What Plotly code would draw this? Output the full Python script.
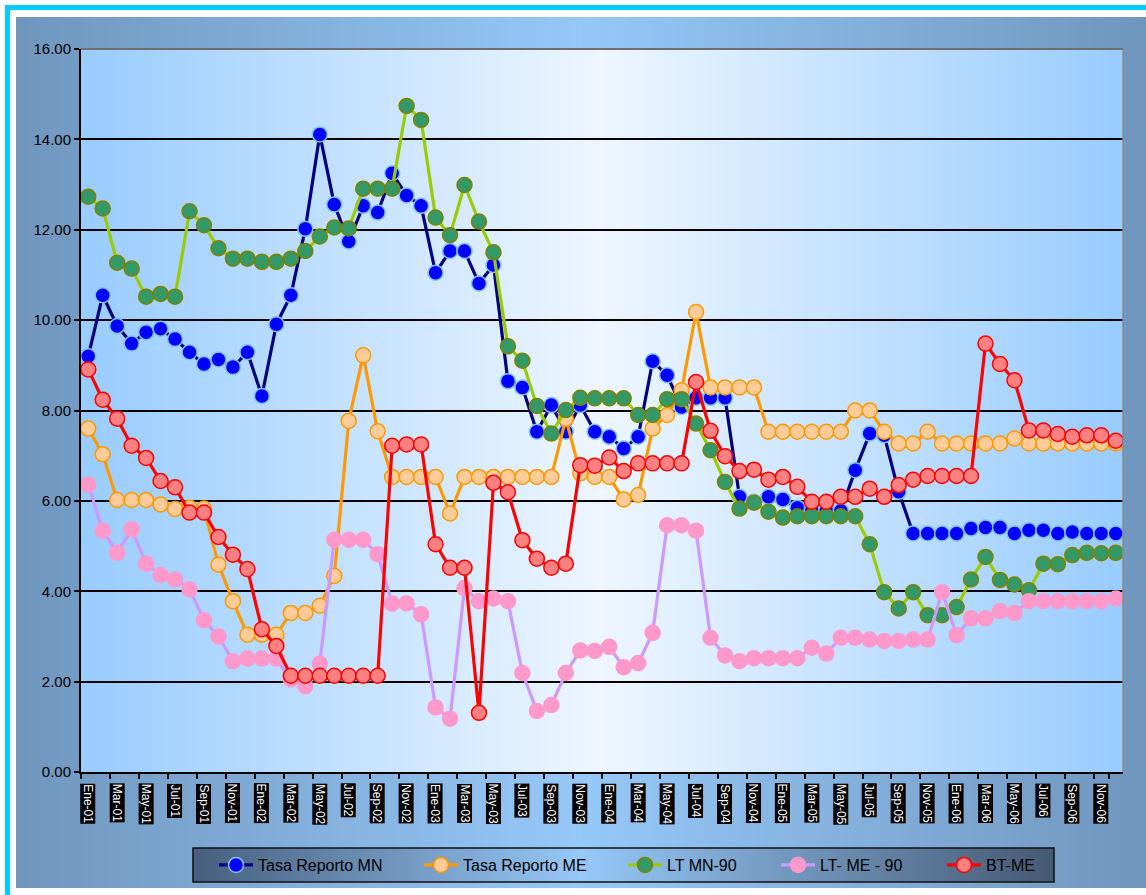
import base64
import struct
import zlib

import plotly.graph_objects as go

# ---------------------------------------------------------------- data
MESES = ["Ene", "Feb", "Mar", "Abr", "May", "Jun",
         "Jul", "Ago", "Sep", "Oct", "Nov", "Dic"]
periodos = [f"{m}-{a:02d}" for a in range(1, 7) for m in MESES]

tasa_reporto_mn = [
    9.20, 10.55, 9.87, 9.48, 9.73, 9.81, 9.58, 9.29, 9.03, 9.13, 8.96, 9.29,
    8.32, 9.91, 10.55, 12.02, 14.11, 12.56, 11.74, 12.53, 12.38, 13.25, 12.76, 12.53,
    11.05, 11.53, 11.53, 10.81, 11.22, 8.65, 8.51, 7.53, 8.12, 7.53, 8.12, 7.53,
    7.42, 7.16, 7.42, 9.09, 8.78, 8.08, 8.28, 8.28, 8.28, 6.09, 5.98, 6.09,
    6.03, 5.85, 5.80, 5.78, 5.78, 6.68, 7.49, 7.45, 6.20, 5.28, 5.28, 5.28,
    5.28, 5.39, 5.41, 5.41, 5.28, 5.35, 5.35, 5.28, 5.31, 5.28, 5.28, 5.28,
]
tasa_reporto_me = [
    7.60, 7.03, 6.02, 6.02, 6.02, 5.92, 5.82, 5.85, 5.83, 4.59, 3.78, 3.04,
    3.04, 3.04, 3.52, 3.52, 3.68, 4.34, 7.77, 9.22, 7.54, 6.53, 6.53, 6.53,
    6.53, 5.72, 6.53, 6.53, 6.53, 6.53, 6.53, 6.53, 6.53, 7.82, 6.61, 6.53,
    6.53, 6.03, 6.13, 7.60, 7.90, 8.45, 10.18, 8.51, 8.51, 8.51, 8.51, 7.53,
    7.53, 7.53, 7.53, 7.53, 7.53, 8.00, 8.00, 7.53, 7.27, 7.27, 7.53, 7.27,
    7.27, 7.27, 7.27, 7.27, 7.38, 7.27, 7.27, 7.27, 7.27, 7.27, 7.27, 7.27,
]
lt_mn_90 = [
    12.73, 12.47, 11.27, 11.14, 10.52, 10.58, 10.52, 12.41, 12.10, 11.59, 11.36, 11.36,
    11.29, 11.29, 11.36, 11.53, 11.85, 12.05, 12.03, 12.91, 12.91, 12.91, 14.74, 14.43,
    12.27, 11.88, 12.99, 12.18, 11.50, 9.42, 9.10, 8.10, 7.49, 8.01, 8.28, 8.27,
    8.27, 8.27, 7.90, 7.90, 8.25, 8.25, 7.71, 7.12, 6.42, 5.83, 5.96, 5.76,
    5.63, 5.66, 5.66, 5.66, 5.66, 5.66, 5.04, 3.98, 3.62, 3.98, 3.47, 3.47,
    3.65, 4.26, 4.76, 4.25, 4.15, 4.02, 4.61, 4.60, 4.80, 4.85, 4.84, 4.85,
]
lt_me_90 = [
    6.36, 5.34, 4.85, 5.37, 4.61, 4.36, 4.26, 4.04, 3.36, 3.00, 2.45, 2.51,
    2.51, 2.51, 2.05, 1.90, 2.40, 5.14, 5.14, 5.14, 4.82, 3.73, 3.73, 3.49,
    1.43, 1.18, 4.07, 3.78, 3.84, 3.78, 2.19, 1.35, 1.48, 2.19, 2.69, 2.68,
    2.77, 2.32, 2.41, 3.08, 5.46, 5.46, 5.34, 2.97, 2.58, 2.45, 2.52, 2.52,
    2.52, 2.52, 2.75, 2.62, 2.97, 2.97, 2.93, 2.90, 2.90, 2.93, 2.93, 3.98,
    3.03, 3.40, 3.40, 3.56, 3.52, 3.78, 3.78, 3.78, 3.78, 3.78, 3.78, 3.84,
]
bt_me = [
    8.91, 8.24, 7.82, 7.22, 6.95, 6.44, 6.30, 5.74, 5.74, 5.20, 4.81, 4.49,
    3.16, 2.79, 2.13, 2.13, 2.13, 2.13, 2.13, 2.13, 2.13, 7.22, 7.25, 7.25,
    5.04, 4.52, 4.52, 1.31, 6.40, 6.19, 5.13, 4.72, 4.52, 4.61, 6.79, 6.78,
    6.96, 6.66, 6.83, 6.83, 6.83, 6.83, 8.63, 7.55, 6.99, 6.66, 6.69, 6.47,
    6.53, 6.31, 5.98, 5.98, 6.09, 6.09, 6.27, 6.09, 6.35, 6.47, 6.55, 6.55,
    6.55, 6.55, 9.48, 9.03, 8.67, 7.56, 7.56, 7.48, 7.42, 7.45, 7.45, 7.33,
]

# name, values, line colour, marker fill, marker outline
series = [
    ("Tasa Reporto MN", tasa_reporto_mn, "#000080", "#0000FF", "#7FC4FF"),
    ("Tasa Reporto ME", tasa_reporto_me, "#FF9900", "#FFCC99", "#FF9900"),
    ("LT MN-90", lt_mn_90, "#99CC00", "#339966", "#808000"),
    ("LT- ME - 90", lt_me_90, "#CC99FF", "#FF99CC", "#FF99CC"),
    ("BT-ME", bt_me, "#FF0000", "#FF8080", "#FF0000"),
]

# ---------------------------------------------------------------- geometry
W, H = 1146, 895
ML, MR, MT, MB = 81, 23, 49, 123
PW, PH = W - ML - MR, H - MT - MB


def fx(px):
    return (px - ML) / PW


def fy(py):
    return (H - MB - py) / PH


ARIAL = "Arial, Liberation Sans, sans-serif"


def gradient_uri(stops, n=256):
    """Horizontal colour ramp as a 1-pixel-high PNG data URI."""
    row = bytearray([0])
    for i in range(n):
        t = i / (n - 1)
        for (t0, c0), (t1, c1) in zip(stops[:-1], stops[1:]):
            if t0 <= t <= t1:
                u = 0 if t1 == t0 else (t - t0) / (t1 - t0)
                row += bytes(round(a + (b - a) * u) for a, b in zip(c0, c1))
                break

    def chunk(tag, data):
        return (struct.pack(">I", len(data)) + tag + data
                + struct.pack(">I", zlib.crc32(tag + data) & 0xFFFFFFFF))

    png = (b"\x89PNG\r\n\x1a\n"
           + chunk(b"IHDR", struct.pack(">IIBBBBB", n, 1, 8, 2, 0, 0, 0))
           + chunk(b"IDAT", zlib.compress(bytes(row)))
           + chunk(b"IEND", b""))
    return "data:image/png;base64," + base64.b64encode(png).decode()


steel = (112, 150, 190)
sky = (153, 204, 255)
frame_bg = gradient_uri([(0, steel), (0.5, (150, 200, 248)), (1, steel)])
plot_bg = gradient_uri([(0, sky), (0.5, (238, 246, 255)), (1, sky)])
legend_bg = gradient_uri([(0, (72, 96, 126)), (0.45, (150, 200, 248)), (1, (70, 90, 116))])

# ---------------------------------------------------------------- figure
fig = go.Figure()
legend_ids = ["legend", "legend2", "legend3", "legend4", "legend5"]
for (name, vals, lc, mc, ml), lid in zip(series, legend_ids):
    fig.add_trace(go.Scatter(
        x=periodos, y=vals, name=name, mode="lines+markers",
        line=dict(color=lc, width=3.2),
        marker=dict(symbol="circle", size=15, color=mc, line=dict(color=ml, width=1.5)),
        legend=lid,
    ))

images = [
    dict(source=frame_bg, xref="paper", yref="paper", x=fx(16), y=fy(17),
         sizex=(W - 16) / PW, sizey=(888 - 17) / PH, sizing="stretch",
         xanchor="left", yanchor="top", layer="below"),
    dict(source=plot_bg, xref="paper", yref="paper", x=0, y=1, sizex=1, sizey=1,
         sizing="stretch", xanchor="left", yanchor="top", layer="below"),
    dict(source=legend_bg, xref="paper", yref="paper", x=fx(193), y=fy(848),
         sizex=(1054 - 193) / PW, sizey=(882 - 848) / PH, sizing="stretch",
         xanchor="left", yanchor="top", layer="below"),
]

shapes = [
    # cyan outer frame (top and left bands)
    dict(type="rect", xref="paper", yref="paper", x0=fx(5), x1=fx(W), y0=fy(10), y1=fy(5),
         fillcolor="#00CCFF", line=dict(width=0), layer="below"),
    dict(type="rect", xref="paper", yref="paper", x0=fx(5), x1=fx(10), y0=fy(H), y1=fy(5),
         fillcolor="#00CCFF", line=dict(width=0), layer="below"),
    # legend frame
    dict(type="rect", xref="paper", yref="paper", x0=fx(193), x1=fx(1054), y0=fy(882), y1=fy(848),
         fillcolor="rgba(0,0,0,0)", line=dict(color="#111111", width=1.5), layer="below"),
    # grey top / right border of the plot area
    dict(type="line", xref="paper", yref="paper", x0=0, x1=1, y0=1, y1=1,
         line=dict(color="#6E6E6E", width=2), layer="above"),
    dict(type="line", xref="paper", yref="paper", x0=1, x1=1, y0=0, y1=1,
         line=dict(color="#8A8A8A", width=1.5), layer="above"),
]

# month labels: white text on black boxes, rotated
annotations = [
    dict(x=p, xref="x", y=0, yref="paper", yanchor="top", xanchor="center",
         yshift=-11, text=p, showarrow=False, textangle=90,
         font=dict(family=ARIAL, size=12, color="white"),
         bgcolor="black", borderpad=0)
    for p in periodos[::2]
]

legend_x = [219, 424, 628, 781, 947]
legends = {}
for lid, sx in zip(legend_ids, legend_x):
    legends[lid] = dict(
        x=fx(sx - 5), y=fy(865), xanchor="left", yanchor="middle",
        orientation="h", bgcolor="rgba(0,0,0,0)", borderwidth=0,
        font=dict(family=ARIAL, size=16, color="black"), itemwidth=34,
    )

fig.update_layout(
    width=W, height=H,
    margin=dict(l=ML, r=MR, t=MT, b=MB, pad=0),
    paper_bgcolor="white", plot_bgcolor="rgba(0,0,0,0)",
    images=images, shapes=shapes, annotations=annotations,
    showlegend=True,
    **legends,
)

fig.update_xaxes(
    type="category", categoryorder="array", categoryarray=periodos,
    range=[-0.5, len(periodos) - 0.5],
    tickmode="array", tickvals=periodos[::2], tickson="boundaries",
    showticklabels=False, ticks="outside", ticklen=5, tickwidth=1.5, tickcolor="black",
    showline=True, linecolor="black", linewidth=2, showgrid=False, zeroline=False,
)
fig.update_yaxes(
    range=[0, 16], tickmode="linear", tick0=0, dtick=2, tickformat=".2f",
    ticks="outside", ticklen=5, tickwidth=1.5, tickcolor="black",
    tickfont=dict(family=ARIAL, size=15, color="black"),
    showline=True, linecolor="black", linewidth=2,
    showgrid=True, gridcolor="black", gridwidth=1.5, zeroline=False,
)

fig.write_html("out.html")
